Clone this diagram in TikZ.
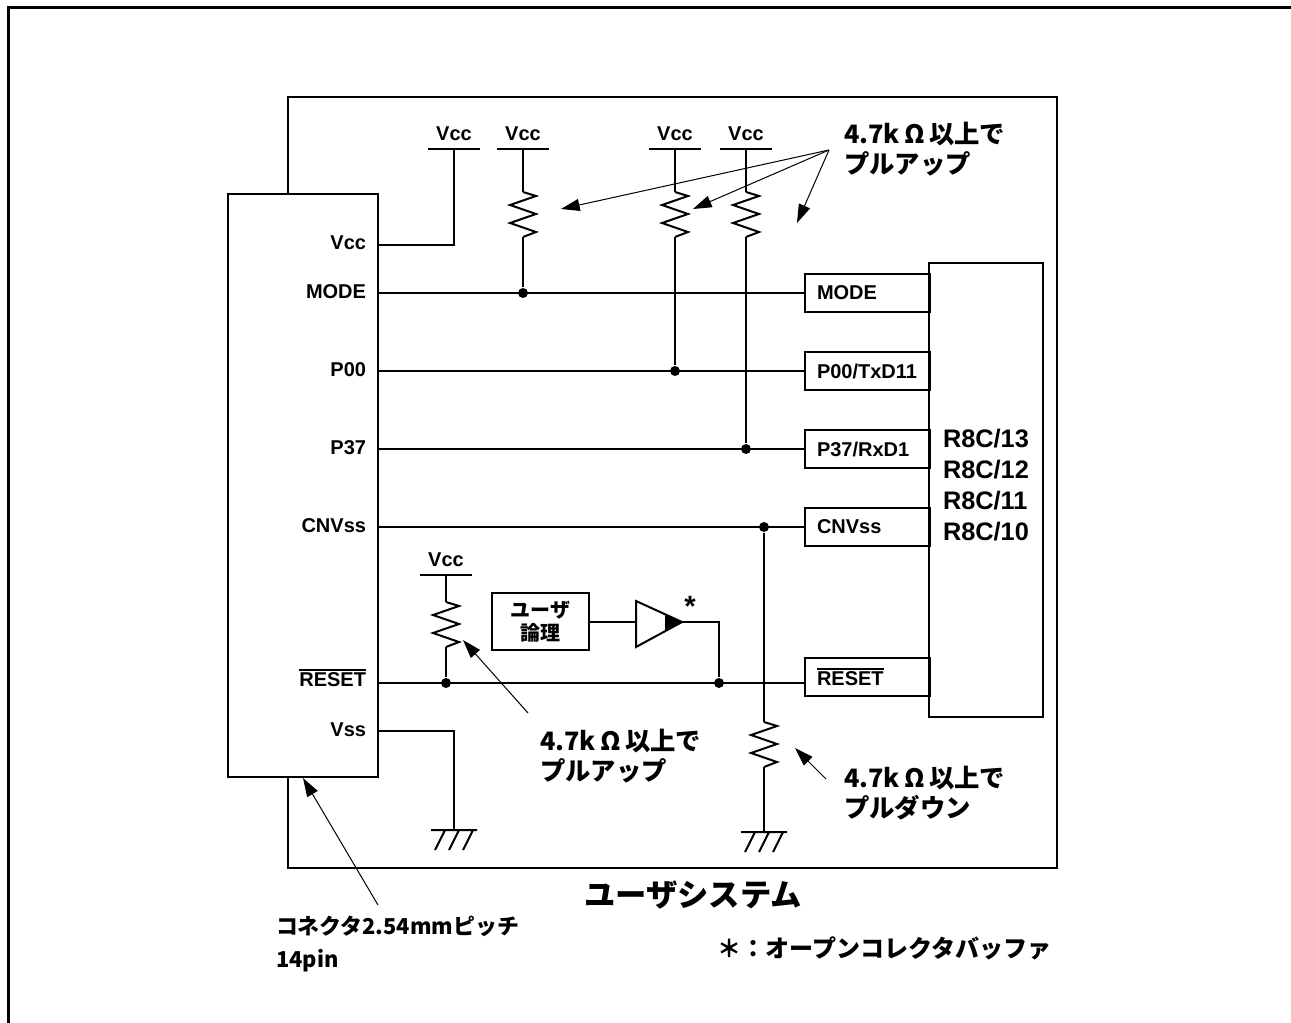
\documentclass[tikz,border=0pt]{standalone}
\usepackage{fontspec}
\setmainfont{Liberation Sans}
\newfontfamily\jpfont{Noto Sans CJK JP}
\usetikzlibrary{arrows.meta}

\newcommand\ovline[1]{\leavevmode\vbox{\hrule height 1.1pt\kern1.6pt\hbox{#1}}}

\tikzset{every picture/.style={line width=1.5pt}}
\tikzset{
  pinlbl/.style={font=\fontsize{15}{18}\selectfont\bfseries, inner sep=0.75pt},
  jplbl/.style={font=\jpfont\bfseries\fontsize{19}{22.5}\selectfont, inner sep=0.75pt, align=left},
  portbox/.style={draw, anchor=west, minimum width=93.75pt, minimum height=28.5pt, inner xsep=9pt, inner ysep=0pt, text width=75.75pt, align=left, font=\fontsize{15}{18}\selectfont\bfseries},
  junction/.style={fill, circle, inner sep=0pt, minimum size=7.5pt},
  callout/.style={line width=0.75pt, -{Triangle[length=14pt,width=9pt]}},
  % pics are drawn with y pointing up
  vccbar/.pic={\draw (-26,0) -- (26,0); \node[pinlbl, anchor=south] at (0,6) {Vcc};},
  resistor/.pic={\draw[line join=miter] (0,0) -- (13,-4) -- (-13,-13) -- (13,-22) -- (-13,-31) -- (13,-40) -- (0,-45);},
  gnd/.pic={\draw (-23,0) -- (23,0) (-9,0) -- (-19,-20) (5,0) -- (-5,-20) (19,0) -- (9,-20);},
}

\begin{document}
\begin{tikzpicture}[x=0.75pt,y=0.75pt,yscale=-1,xscale=1]
\useasboundingbox (0,0) rectangle (1291,1023);

%Outer frame
\draw [line width=2.25pt] (8,1023) -- (8,8) -- (1291,8) ;
%User system
\draw (288,194) -- (288,97) -- (1057,97) -- (1057,868) -- (288,868) -- (288,777) ;
\node [font=\jpfont\bfseries\fontsize{23.5}{26}\selectfont] (sysname) at (693,895) {ユーザシステム};

%Connector
\draw (228,194) rectangle (378,777) ;
\coordinate (pinVcc) at (378,245);
\coordinate (pinMODE) at (378,293);
\coordinate (pinP00) at (378,371);
\coordinate (pinP37) at (378,449);
\coordinate (pinCNV) at (378,527);
\coordinate (pinRES) at (378,683);
\coordinate (pinVss) at (378,731);
\node [pinlbl, anchor=east] (lVcc) at (368,243) {Vcc};
\node [pinlbl, anchor=east] (lMODE) at (368,292) {MODE};
\node [pinlbl, anchor=east] (lP00) at (368,370) {P00};
\node [pinlbl, anchor=east] (lP37) at (368,448) {P37};
\node [pinlbl, anchor=east] (lCNV) at (368,526) {CNVss};
\node [pinlbl, anchor=east] (lRES) at (368,678) {\ovline{RESET}};
\node [pinlbl, anchor=east] (lVss) at (368,730) {Vss};
\coordinate (conArrow) at (303,778);

%MCU
\draw (929,263) rectangle (1043,717) ;
\node [portbox] (pMODE) at (804,293) {MODE};
\node [portbox] (pP00) at (804,371) {P00/TxD11};
\node [portbox] (pP37) at (804,449) {P37/RxD1};
\node [portbox] (pCNV) at (804,527) {CNVss};
\node [portbox] (pRES) at (804,677) {\ovline{RESET}};
\node [anchor=north west, align=left, inner sep=0pt, font=\fontsize{19}{23.25}\selectfont\bfseries] (mcu) at (942,428) {R8C/13\\R8C/12\\R8C/11\\R8C/10};

%Pull-up resistors
\pic at (454,149) {vccbar};
\pic at (523,149) {vccbar};
\pic at (675,149) {vccbar};
\pic at (746,149) {vccbar};
\pic at (523,192) {resistor};
\pic at (675,192) {resistor};
\pic at (746,192) {resistor};
\coordinate (vcc1) at (454,149);
\coordinate (rA) at (523,149);
\coordinate (rB) at (675,149);
\coordinate (rC) at (746,149);
\node [junction] (jMODE) at (523,293) {};
\node [junction] (jP00) at (675,371) {};
\node [junction] (jP37) at (746,449) {};
\draw (pinVcc) -| (vcc1) ;
\draw (rA) -- (523,192) (523,237) -- (jMODE) ;
\draw (rB) -- (675,192) (675,237) -- (jP00) ;
\draw (rC) -- (746,192) (746,237) -- (jP37) ;

%Signal lines
\draw (pinMODE) -- (pinMODE -| pMODE.west) ;
\draw (pinP00) -- (pinP00 -| pP00.west) ;
\draw (pinP37) -- (pinP37 -| pP37.west) ;
\draw (pinCNV) -- (pinCNV -| pCNV.west) ;
\draw (pinRES) -- (pinRES -| pRES.west) ;

%CNVss pull-down
\node [junction] (jCNV) at (764,527) {};
\pic at (764,722) {resistor};
\pic at (764,832) {gnd};
\draw (jCNV) -- (764,722) (764,767) -- (764,832) ;

%Vss
\pic at (454,830) {gnd};
\coordinate (gVss) at (454,830);
\draw (pinVss) -| (gVss) ;

%Reset pull-up
\pic at (446,575) {vccbar};
\pic at (446,602) {resistor};
\node [junction] (jRES) at (446,683) {};
\draw (446,575) -- (446,602) (446,647) -- (jRES) ;

%User logic and open collector buffer
\node [draw, minimum width=72.75pt, minimum height=42.75pt, align=center, inner sep=0pt, font=\jpfont\bfseries\fontsize{15}{17}\selectfont] (logic) at (540.5,621.5) {ユーザ\\論理};
\draw [line join=miter] (636,601) -- (682,622) -- (636,647) -- cycle ;
\fill (665,614) -- (682,622) -- (665,630) -- cycle ;
\coordinate (bufIn) at (636,622);
\coordinate (bufOut) at (682,622);
\node [junction] (jOut) at (719,683) {};
\draw (logic.east |- bufIn) -- (bufIn) ;
\draw (bufOut) -| (jOut) ;
\node [font=\fontsize{22}{24}\selectfont\bfseries, inner sep=0pt] (star) at (690,606) {*};

%Notes
\node [jplbl, anchor=north west] (noteTop) at (842,120) {4.7k\,Ω\,以上で\\プルアップ};
\coordinate (fromTop) at (829,150);
\draw [callout] (fromTop) -- (561,209) ;
\draw [callout] (fromTop) -- (693,209) ;
\draw [callout] (fromTop) -- (797,223) ;
\node [jplbl, anchor=north west] (noteRes) at (538,727) {4.7k\,Ω\,以上で\\プルアップ};
\draw [callout] (528,713) -- (463,640) ;
\node [jplbl, anchor=north west] (noteDown) at (842,764) {4.7k\,Ω\,以上で\\プルダウン};
\draw [callout] (826,779) -- (795,748) ;
\node [jplbl, anchor=north west, font=\jpfont\bfseries\fontsize{16.4}{24.5}\selectfont] (noteCon) at (274,914) {コネクタ2.54mmピッチ\\14pin};
\draw [callout] (378,905) -- (conArrow) ;
\node [anchor=west, font=\jpfont\bfseries\fontsize{18}{20}\selectfont] (legend) at (712,948) {＊：オープンコレクタバッファ};

\end{tikzpicture}
\end{document}
